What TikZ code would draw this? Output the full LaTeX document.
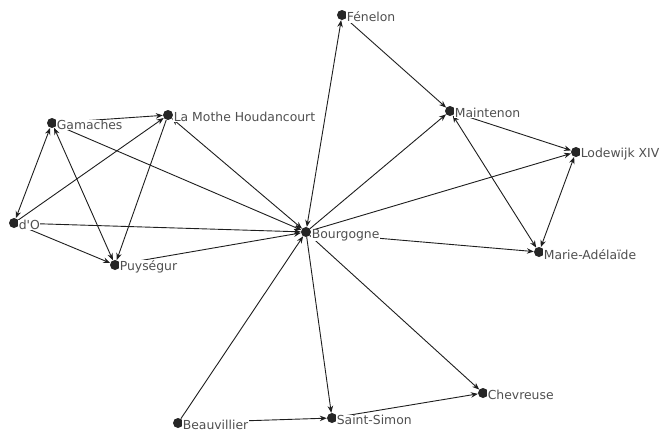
\documentclass[tikz,border=0pt]{standalone}
\usepackage{fontspec}
\setmainfont{DejaVu Sans}
\usetikzlibrary{arrows.meta}
\definecolor{lblgray}{RGB}{80,80,80}
\definecolor{edgegray}{RGB}{30,30,30}
\tikzset{
  dot/.style={circle, fill=black!85, inner sep=0pt, minimum size=10pt},
  lbl/.style={anchor=west, fill=white, inner sep=0.6pt, text=lblgray, font=\fontsize{12.4}{13}\selectfont},
  edge/.style={draw=edgegray, line width=0.9pt, -{Stealth[length=7pt,width=5.5pt]}},
  bedge/.style={draw=edgegray, line width=0.9pt, {Stealth[length=7pt,width=5.5pt]}-{Stealth[length=7pt,width=5.5pt]}}
}
\begin{document}
\begin{tikzpicture}[x=1pt,y=-1pt]
\useasboundingbox (0,0) rectangle (665,432);
% nodes (dots)
\node[dot] (fen) at (342,15) {};
\node[dot] (mai) at (450,111) {};
\node[dot] (lod) at (576,152) {};
\node[dot] (mar) at (539,252) {};
\node[dot] (bou) at (306,232) {};
\node[dot] (che) at (483,393) {};
\node[dot] (sai) at (332,418) {};
\node[dot] (bea) at (178,423) {};
\node[dot] (gam) at (52,123) {};
\node[dot] (lam) at (168,115) {};
\node[dot] (do) at (14,223) {};
\node[dot] (puy) at (115,265) {};
% edges
\draw[edge] (gam) -- (lam);
\draw[bedge] (do) -- (gam);
\draw[bedge] (gam) -- (puy);
\draw[edge] (do) -- (lam);
\draw[edge] (lam) -- (puy);
\draw[edge] (do) -- (puy);
\draw[edge] (do) -- (bou);
\draw[edge] (gam) -- (bou);
\draw[bedge] (lam) -- (bou);
\draw[edge] (puy) -- (bou);
\draw[bedge] (bou) -- (fen);
\draw[edge] (fen) -- (mai);
\draw[edge] (bou) -- (mai);
\draw[edge] (mai) -- (lod);
\draw[bedge] (mai) -- (mar);
\draw[edge] (bou) -- (lod);
\draw[bedge] (lod) -- (mar);
\draw[edge] (bou) -- (mar);
\draw[edge] (bou) -- (sai);
\draw[edge] (bou) -- (che);
\draw[edge] (bea) -- (bou);
\draw[edge] (bea) -- (sai);
\draw[edge] (sai) -- (che);
% labels
\node[lbl] (fenL) at (346,17) {Fénelon};
\node[lbl] (maiL) at (454,113) {Maintenon};
\node[lbl] (lodL) at (580,154) {Lodewijk XIV};
\node[lbl] (marL) at (543,255) {Marie-Adélaïde};
\node[lbl] (bouL) at (311,235) {Bourgogne};
\node[lbl] (cheL) at (487,395) {Chevreuse};
\node[lbl] (saiL) at (336,420) {Saint-Simon};
\node[lbl] (beaL) at (182,425) {Beauvillier};
\node[lbl] (gamL) at (56,125) {Gamaches};
\node[lbl] (lamL) at (173,117) {La Mothe Houdancourt};
\node[lbl] (doL) at (18,225) {d\textquotesingle O};
\node[lbl] (puyL) at (119,267) {Puységur};
\end{tikzpicture}
\end{document}
